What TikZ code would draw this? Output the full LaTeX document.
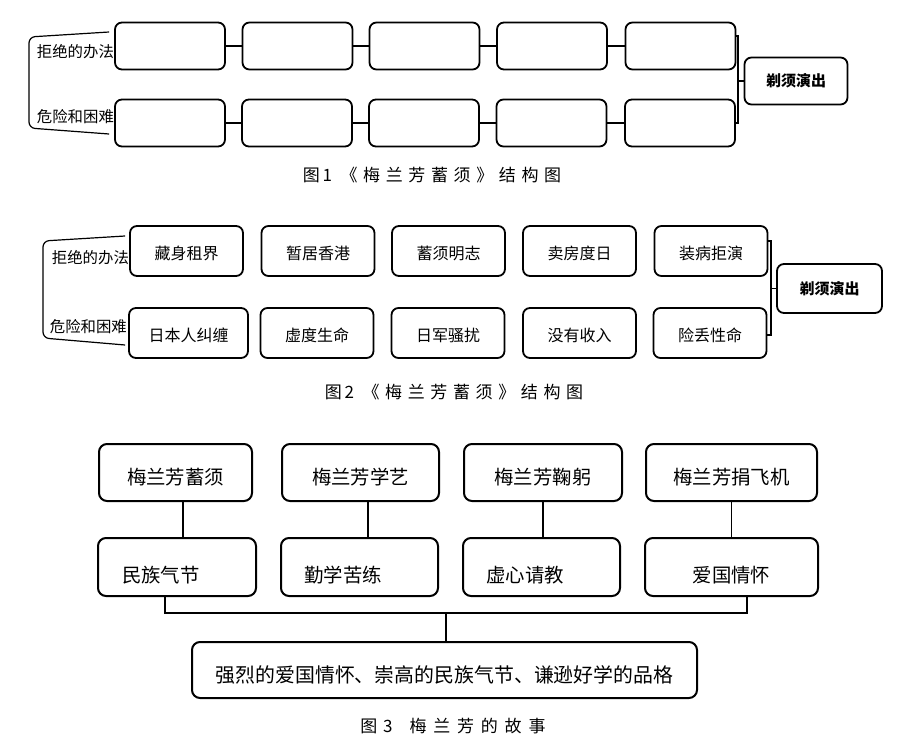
\documentclass[tikz,border=0pt]{standalone}
\usepackage{fontspec}
\setmainfont{Noto Sans CJK SC}
\newfontfamily\capfont[LetterSpace=33]{Noto Sans CJK SC}
\newfontfamily\widecapfont[LetterSpace=40]{Noto Sans CJK SC}
\usetikzlibrary{calc}
\tikzset{
  box/.style={draw, line width=1.8pt, rounded corners=7pt, inner sep=0pt},
  blank/.style={box, minimum width=110pt, minimum height=47pt},
  plan/.style={box, minimum width=113pt, minimum height=50pt,
    font=\fontsize{16}{18}\selectfont, text height=16pt, text depth=0pt},
  goal/.style={box, minimum width=103pt, minimum height=47pt,
    font=\bfseries\fontsize{15}{18}\selectfont},
  story/.style={box, line width=2pt, rounded corners=8pt, minimum height=57pt,
    font=\fontsize{19.4}{22}\selectfont, text height=23pt, text depth=0pt},
  trait/.style={story, minimum height=58pt, text height=30pt},
  virtue/.style={trait, text width=110pt, align=left},
  whole/.style={story, minimum width=505pt, minimum height=56pt,
    font=\fontsize{19.9}{22}\selectfont, text height=24.4pt},
  side/.style={inner sep=0pt, font=\fontsize{15.4}{18}\selectfont},
  caption/.style={inner sep=0pt, font=\capfont\fontsize{17}{20}\selectfont},
  link/.style={line width=1.2pt}
}
\begin{document}
\begin{tikzpicture}[x=1pt, y=-1pt]
  \useasboundingbox[fill=white] (0,0) rectangle (906,755);
  \path
    (170,46) node[blank] (a1){}
    (297.5,46) node[blank] (a2){}
    (424.5,46) node[blank] (a3){}
    (552,46) node[blank] (a4){}
    (680.5,46) node[blank] (a5){}
    (170,123) node[blank] (b1){}
    (297,123) node[blank] (b2){}
    (424,123) node[blank] (b3){}
    (551.5,123) node[blank] (b4){}
    (680,123) node[blank] (b5){}
    (796,81) node[goal] (g1){剃须演出}
    ([yshift=-6pt]a1.west) node[side, anchor=east] (ra){拒绝的办法}
    ([yshift=6pt]b1.west) node[side, anchor=east] (rb){危险和困难}
    (432,175) node[caption] (cap1){图\,1\enspace《梅兰芳蓄须》结构图};
  \begin{scope}[link]
    \draw (a1) to (a2);
    \draw (a2) to (a3);
    \draw (a3) to (a4);
    \draw (a4) to (a5);
    \draw (b1) to (b2);
    \draw (b2) to (b3);
    \draw (b3) to (b4);
    \draw (b4) to (b5);
    \coordinate (k1) at (738,81);
    \draw ([yshift=10pt]a5.east) -| (k1) |- (b5.east);
    \draw (k1) to (g1);
    \draw[rounded corners=6pt] ([xshift=-5pt,yshift=14pt]a1.west) -- (29,37)
      -- (29,128) -- ([xshift=-5pt,yshift=-11pt]b1.west);
  \end{scope}
  \path
    (186.5,251) node[plan] (c1){藏身租界}
    (318,251) node[plan] (c2){暂居香港}
    (448.5,251) node[plan] (c3){蓄须明志}
    (579.5,251) node[plan] (c4){卖房度日}
    (711,251) node[plan] (c5){装病拒演}
    (188.5,333) node[plan, minimum width=119pt] (d1){日本人纠缠}
    (317,333) node[plan] (d2){虚度生命}
    (448,333) node[plan] (d3){日军骚扰}
    (579.5,333) node[plan] (d4){没有收入}
    (710,333) node[plan] (d5){险丢性命}
    (829.5,288.5) node[goal, minimum width=105pt, minimum height=49pt] (g2){剃须演出}
    ([yshift=-7pt]c1.west) node[side, anchor=east] (rc){拒绝的办法}
    ([xshift=-1pt,yshift=6pt]d1.west) node[side, anchor=east] (rd){危险和困难}
    (454,392) node[caption] (cap2){图\,2\enspace《梅兰芳蓄须》结构图};
  \begin{scope}[link]
    \coordinate (k2) at (771,288.5);
    \draw ([yshift=10pt]c5.east) -| (k2) |- ([yshift=-2pt]d5.east);
    \draw (k2) to (g2);
    \draw[rounded corners=6pt] ([xshift=-4pt,yshift=15pt]c1.west) -- (43,241)
      -- (43,338) -- ([xshift=-3pt,yshift=-12pt]d1.west);
  \end{scope}
  \path
    (175.5,472.5) node[story, minimum width=153pt] (s1){梅兰芳蓄须}
    (360.5,472.5) node[story, minimum width=157pt] (s2){梅兰芳学艺}
    (543,472.5) node[story, minimum width=158pt] (s3){梅兰芳鞠躬}
    (731.5,472.5) node[story, minimum width=171pt] (s4){梅兰芳捐飞机}
    (177,567) node[virtue, minimum width=158pt] (t1){民族气节}
    (359.5,567) node[virtue, minimum width=157pt] (t2){勤学苦练}
    (541.5,567) node[virtue, minimum width=157pt] (t3){虚心请教}
    (731.5,567) node[trait, minimum width=173pt] (t4){爱国情怀}
    (444.5,670) node[whole] (m){强烈的爱国情怀、崇高的民族气节、谦逊好学的品格}
    (453,726) node[caption] (cap3){{\capfont 图3}\quad{\widecapfont 梅兰芳的故事}};
  \begin{scope}[link]
    \draw ([xshift=7.5pt]s1.south) -- ([xshift=7.5pt]s1.south |- t1.north);
    \draw ([xshift=7.5pt]s2.south) -- ([xshift=7.5pt]s2.south |- t2.north);
    \draw (s3.south) -- (s3.south |- t3.north);
    \draw (s4.south) -- (s4.south |- t4.north);
    \coordinate (j) at (446,613);
    \draw ([xshift=-12pt]t1.south) |- (j) -| ([xshift=15.5pt]t4.south);
    \draw (j) -- (j |- m.north);
  \end{scope}
\end{tikzpicture}
\end{document}
